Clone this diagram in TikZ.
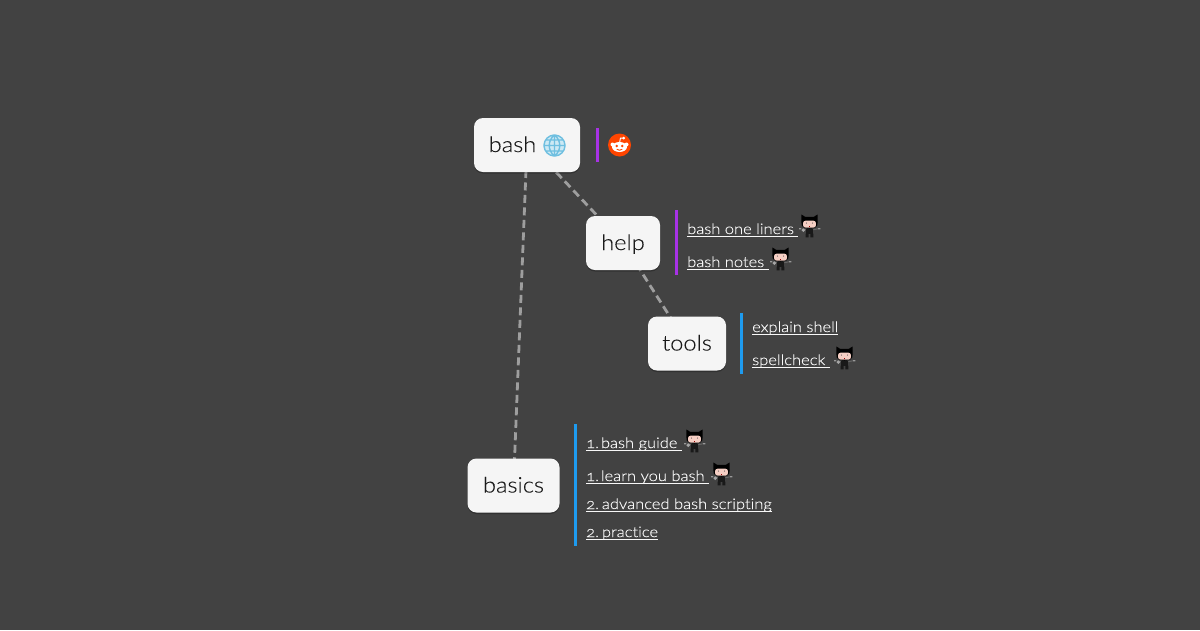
\documentclass[tikz,border=0pt]{standalone}
\usepackage{fontspec}
\setmainfont{Lato Light}[FakeStretch=1.1,FakeBold=0.12,Ligatures=NoCommon,Numbers=OldStyle]
\newfontfamily\linkfont{Lato Light}[FakeStretch=1.13,FakeBold=0.1,Ligatures=NoCommon,Numbers=OldStyle]
\usetikzlibrary{shadows}
\pgfdeclarelayer{bgfill}
\pgfdeclarelayer{edges}
\pgfsetlayers{bgfill,edges,main}
\definecolor{bgc}{HTML}{424242}
\definecolor{cardc}{HTML}{F5F5F5}
\definecolor{inkc}{HTML}{1A1A1A}
\definecolor{linkc}{HTML}{F8F8F8}
\definecolor{edgec}{HTML}{9E9E9E}
\definecolor{purplec}{HTML}{A832E6}
\definecolor{bluec}{HTML}{1E9BEF}
\definecolor{redditc}{HTML}{FF4500}
\definecolor{globec}{HTML}{6FBFE0}
\definecolor{skinc}{HTML}{F6CFC4}
\newcommand{\ulink}[1]{\setbox0\hbox{#1}\rlap{\rule[-2.6pt]{\wd0}{0.9pt}}\box0}
\tikzset{
  x=1pt,y=-1pt,
  card/.style={fill=cardc,rounded corners=9pt,minimum height=54pt,inner sep=0pt,text=inkc,
     text height=19pt,text depth=5pt,font=\fontsize{21.5}{24}\selectfont,
     drop shadow={shadow xshift=0pt,shadow yshift=-1.5pt,fill=black,opacity=.25}},
  conn/.style={draw=edgec,line width=2.8pt,dash pattern=on 8pt off 4.5pt},
  bar/.style={line width=3pt},
  lnk/.style={anchor=base west,inner sep=0pt,text=linkc,font=\linkfont\fontsize{14.6}{17}\selectfont},
  octocat/.pic={
    \fill[black] (-8.5,-2) -- (-8.5,-10) -- (-4.5,-7.5) -- (4.5,-7.5) -- (8.5,-10) -- (8.5,-2) .. controls (9.5,3) and (5,5) .. (0,5) .. controls (-5,5) and (-9.5,3) .. (-8.5,-2) -- cycle;
    \fill[skinc,rounded corners=2.5pt] (-6.8,-3.5) rectangle (6.8,3.8);
    \fill[black!70] (-3.2,-1) circle (.6) (3.2,-1) circle (.6);
    \fill[red!60!black] (-.8,1.6) rectangle (.8,2.2);
    \fill[black!90] (-4,5) rectangle (4,10);
    \fill[black!90] (-4,10) rectangle (-1,14) (1,10) rectangle (4,14);
    \draw[black!60,line width=1pt] (-4,6) -- (-9,5) (4,6) -- (9,5);
    \fill[gray!80] (-11,4.3) rectangle (-9,5.6) (9,4.3) rectangle (11.5,5.6);
    \fill[gray!70] (-6.5,6.5) circle (2);
  },
  globeicon/.pic={
    \fill[globec!35] (0,0) circle (11);
    \draw[globec,line width=1.4pt] (0,0) circle (10.5)
      (0,-10.5) .. controls (-7,-5) and (-7,5) .. (0,10.5)
      (0,-10.5) .. controls (7,-5) and (7,5) .. (0,10.5)
      (0,-10.5) -- (0,10.5)
      (-10.5,0) -- (10.5,0)
      (-8.7,-5.5) -- (8.7,-5.5) (-8.7,5.5) -- (8.7,5.5);
  },
  redditicon/.pic={
    \fill[redditc] (0,0) circle (11.5);
    \fill[white] (0,2) ellipse (7.5 and 5);
    \fill[white] (-7,-0.5) circle (2) (7,-0.5) circle (2);
    \fill[white] (4.2,-6.8) circle (1.5);
    \draw[white,line width=.9pt] (0,-2) -- (1,-7) -- (4,-6.8);
    \fill[redditc] (-2.7,1) circle (1.4) (2.7,1) circle (1.4);
    \draw[redditc,line width=.9pt] (-2.8,4.2) .. controls (-1,5.6) and (1,5.6) .. (2.8,4.2);
  },
}
\begin{document}
\begin{tikzpicture}
\useasboundingbox (0,0) rectangle (1200,630);
\begin{pgfonlayer}{bgfill}
\fill[bgc] (0,0) rectangle (1200,630);
\end{pgfonlayer}

\node[card,minimum width=106pt] (bash) at (527,145) {\hspace{-29pt}bash};
\node[card,minimum width=74pt] (help) at (623,243) {help};
\node[card,minimum width=78pt] (tools) at (687,343.5) {tools};
\node[card,minimum width=92pt] (basics) at (513.5,485.5) {basics};

\begin{pgfonlayer}{edges}
\draw[conn] (bash.center) -- (basics.center);
\draw[conn] (bash.center) ++(3.5,0) -- (help.center);
\draw[conn] (help.center) -- (tools.center);
\end{pgfonlayer}

\pic at (554.5,145.5) {globeicon};

\draw[bar,draw=purplec] (597,128) -- (597,162);
\pic at (619.5,145) {redditicon};

\draw[bar,draw=purplec] (676,210) -- (676,275);
\node[lnk] (l1) at (687,234) {\ulink{bash one liners\ }};
\pic[scale=.95] at (809.5,224) {octocat};
\node[lnk] (l2) at (687,267) {\ulink{bash notes\ }};
\pic[scale=.95] at (780.5,257) {octocat};

\draw[bar,draw=bluec] (741,313) -- (741,374);
\node[lnk] (l3) at (752,332) {\ulink{explain shell}};
\node[lnk] (l4) at (752,365) {\ulink{spellcheck\ }};
\pic[scale=.95] at (844.5,356) {octocat};

\draw[bar,draw=bluec] (575,424) -- (575,546);
\node[lnk] (l5) at (586,448) {\ulink{1.\kern-2.5pt\ bash guide\ }};
\pic[scale=.95] at (694.5,439) {octocat};
\node[lnk] (l6) at (586,481) {\ulink{1.\kern-2.5pt\ learn you bash\ }};
\pic[scale=.95] at (721.5,472) {octocat};
\node[lnk] (l7) at (586,509) {\ulink{2.\kern-1.5pt\ advanced bash scripting}};
\node[lnk] (l8) at (586,537) {\ulink{2.\kern-1.5pt\ practice}};
\end{tikzpicture}
\end{document}
